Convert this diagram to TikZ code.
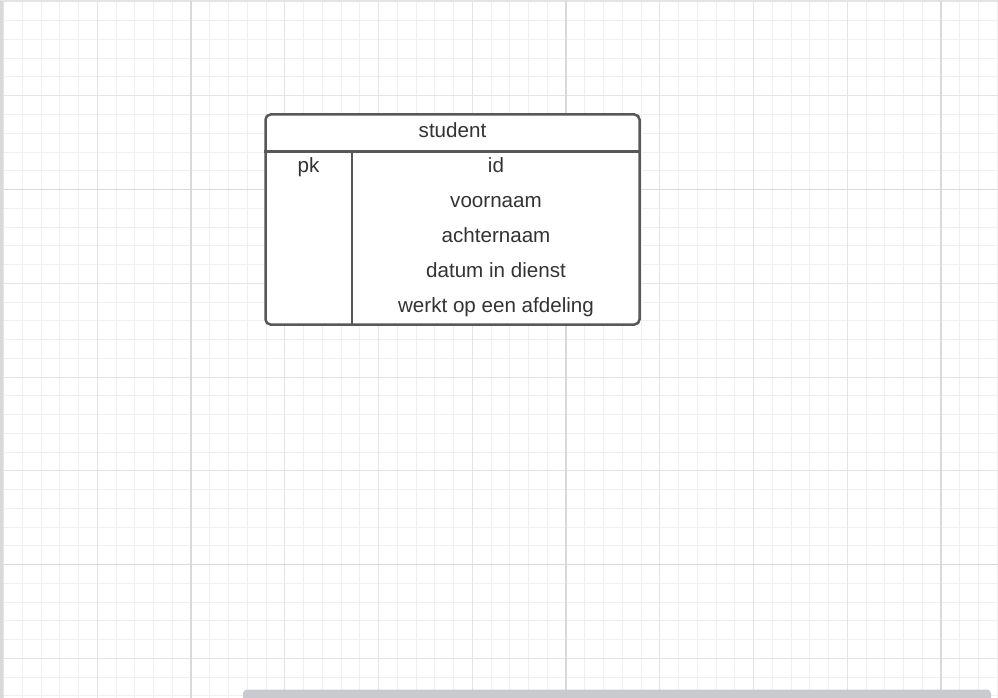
\documentclass[tikz,border=0pt]{standalone}
\usepackage{fontspec}
\setmainfont{Liberation Sans}
\usepackage{xcolor}
\usepackage{tikz}
\usetikzlibrary{positioning}
\definecolor{gridminor}{HTML}{EFEFEF}
\definecolor{gridmid}{HTML}{E4E4E4}
\definecolor{gridmajor}{HTML}{D9D9D9}
\definecolor{edge}{HTML}{585858}
\definecolor{ink}{HTML}{333333}
\definecolor{scroll}{HTML}{C8CACF}
\newcommand{\fieldfont}{\fontsize{20.6}{24}\selectfont}

\begin{document}
\begin{tikzpicture}[x=1pt, y=-1pt,
  tableline/.style={draw=edge, line width=2.5pt},
  cell/.style={inner sep=0pt, anchor=base, text=ink, font=\fieldfont}]
\useasboundingbox (0,0) rectangle (998,698);
\fill[white] (0,0) rectangle (998,698);
% grid
\foreach \k in {0,...,53} {
  \draw[gridminor, line width=1pt] ({3.5+\k*18.75},0) -- ({3.5+\k*18.75},698);
  \draw[gridminor, line width=1pt] (0,{2+\k*18.75}) -- (998,{2+\k*18.75});
}
\foreach \k in {0,...,10} {
  \draw[gridmid, line width=1pt] ({3.5+\k*93.75},0) -- ({3.5+\k*93.75},698);
  \draw[gridmid, line width=1pt] (0,{2+\k*93.75}) -- (998,{2+\k*93.75});
}
\foreach \k in {0,1,2} {
  \draw[gridmajor, line width=1.4pt] ({191+\k*375},0) -- ({191+\k*375},698);
}
\foreach \k in {0,1} {
  \draw[gridmajor, line width=1.4pt] (0,{189.5+\k*375}) -- (998,{189.5+\k*375});
}
\fill[gridmajor] (0,0) rectangle (3,698);
\fill[gridmid] (0,0) rectangle (998,1.5);
\fill[scroll, rounded corners=4pt] (243,689.5) rectangle (991,704);

% student table
\node[tableline, fill=white, rounded corners=5pt, minimum width=374pt, minimum height=210pt] (tbl) at (452.5,219.5) {};
\coordinate (hsep) at (0,151.5);
\coordinate (vsep) at (352,0);
\draw[tableline] (tbl.west |- hsep) -- (tbl.east |- hsep);
\draw[tableline] (vsep |- hsep) -- (vsep |- tbl.south);
\node[cell] (title) at (452.5,137) {student};
\node[cell] (pk) at (308.5,172.5) {pk};
\foreach \i/\label in {0/id, 1/voornaam, 2/achternaam, 3/datum in dienst, 4/werkt op een afdeling} {
  \node[cell] (f\i) at (496,{172.5+\i*35}) {\label};
}
\end{tikzpicture}
\end{document}
